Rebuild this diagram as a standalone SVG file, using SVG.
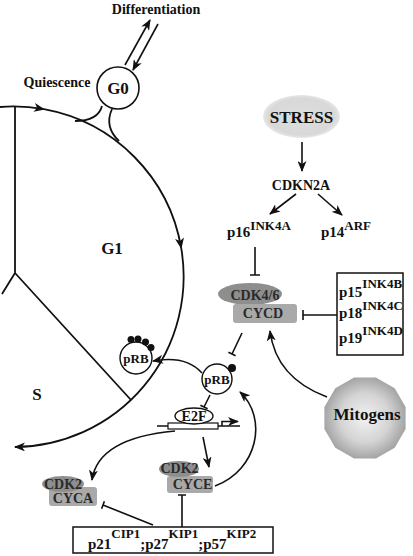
<svg xmlns="http://www.w3.org/2000/svg" width="413" height="556" viewBox="0 0 413 556">
<style>
text{font-family:"Liberation Serif","Times New Roman",serif;font-weight:bold;fill:#111}
.ln{fill:none;stroke:#111;stroke-width:1.6}
.cy{fill:none;stroke:#111;stroke-width:1.8}
.cdk{fill:#8e8e8e}
.cyc{fill:#a9a9a9}
.ct{fill:#2a2a2a;font-size:14px;text-anchor:middle}
.box{fill:#fff;stroke:#111;stroke-width:1.5}
</style>
<defs>
<marker id="ah" markerUnits="userSpaceOnUse" markerWidth="11" markerHeight="9" refX="10" refY="4.5" orient="auto">
<path d="M0,0 L11,4.5 L0,9 L3,4.5 z" fill="#111"/>
</marker>
<radialGradient id="mg" cx="0.5" cy="0.5" r="0.55">
<stop offset="0" stop-color="#f2f2f2"/>
<stop offset="0.55" stop-color="#d4d4d4"/>
<stop offset="1" stop-color="#9a9a9a"/>
</radialGradient>
<radialGradient id="sg" cx="0.5" cy="0.5" r="0.5">
<stop offset="0" stop-color="#dedede"/>
<stop offset="0.85" stop-color="#d8d8d8"/>
<stop offset="1" stop-color="#e6e6e6"/>
</radialGradient>
</defs>

<g id="cell-cycle">
<path class="cy" d="M0,107 A170.3,170.3 0 0 1 44,109.2" marker-end="url(#ah)"/>
<path class="cy" d="M44,109.2 A170.3,170.3 0 0 1 181.2,248" marker-end="url(#ah)"/>
<path class="cy" d="M181.2,248 A170.3,170.3 0 0 1 15,447" marker-end="url(#ah)"/>
<path class="cy" d="M15,107 V273 L2,294 M15,273 L131,400"/>
<path class="cy" d="M102,106 Q98,121 75,121"/>
<path class="cy" d="M112,109 Q104,127 119,141"/>
</g>

<g id="G0">
<circle cx="118" cy="88" r="21" fill="#fff" stroke="#111" stroke-width="1.6"/>
<text x="118" y="94" font-size="17" text-anchor="middle">G0</text>
</g>
<g id="labels">
<text x="156" y="14" font-size="14" text-anchor="middle">Differentiation</text>
<text x="57" y="87" font-size="14" text-anchor="middle">Quiescence</text>
<text x="112" y="254" font-size="17" text-anchor="middle">G1</text>
<text x="37" y="400" font-size="17" text-anchor="middle">S</text>
</g>

<g id="STRESS">
<ellipse cx="301.5" cy="116.5" rx="38.5" ry="21.5" fill="url(#sg)"/>
<text x="301.5" y="123" font-size="17" text-anchor="middle">STRESS</text>
</g>
<g id="CDKN2A"><text x="301" y="190" font-size="14" text-anchor="middle">CDKN2A</text></g>
<g id="p16"><text x="227" y="237" font-size="15">p16<tspan font-size="13" dy="-7">INK4A</tspan></text></g>
<g id="p14"><text x="321" y="237" font-size="15">p14<tspan font-size="13" dy="-7">ARF</tspan></text></g>

<g id="CDK46-CYCD">
<ellipse class="cdk" cx="250" cy="294" rx="32" ry="11"/>
<rect class="cyc" x="233" y="304" width="64" height="19" rx="3"/>
<text class="ct" x="255" y="300" font-size="15">CDK4/6</text>
<text class="ct" x="263" y="318">CYCD</text>
</g>

<g id="INK4-box">
<rect class="box" x="337" y="273" width="66" height="82"/>
<text x="339" y="297" font-size="15">p15<tspan font-size="13" dy="-9">INK4B</tspan></text>
<text x="339" y="318" font-size="15">p18<tspan font-size="13" dy="-8">INK4C</tspan></text>
<text x="339" y="343" font-size="15">p19<tspan font-size="13" dy="-8">INK4D</tspan></text>
</g>

<g id="Mitogens">
<polygon points="405.6,428.9 394.7,447.7 375.9,458.6 354.1,458.6 335.3,447.7 324.4,428.9 324.4,407.1 335.3,388.3 354.1,377.4 375.9,377.4 394.7,388.3 405.6,407.1" fill="url(#mg)"/>
<text x="367" y="420" font-size="17" text-anchor="middle">Mitogens</text>
</g>

<g id="pRB-P">
<circle cx="136" cy="358" r="16" fill="#fff" stroke="#111" stroke-width="1.4"/>
<circle cx="131" cy="339.5" r="3.5" fill="#111"/>
<circle cx="138" cy="339" r="3.5" fill="#111"/>
<circle cx="145.5" cy="342" r="3.5" fill="#111"/>
<circle cx="151" cy="347.5" r="3.5" fill="#111"/>
<text x="136" y="362.5" font-size="13" text-anchor="middle">pRB</text>
</g>

<g id="pRB">
<circle cx="217" cy="379" r="15" fill="#fff" stroke="#111" stroke-width="1.4"/>
<circle cx="232" cy="368" r="4" fill="#111"/>
<text x="217" y="383.5" font-size="13" text-anchor="middle">pRB</text>
</g>

<g id="E2F-gene">
<path class="ln" d="M157,426 H240" stroke-width="1.3"/>
<rect x="168" y="423" width="50" height="6" fill="#fff" stroke="#111" stroke-width="1.2"/>
<path class="ln" d="M222,426 V421.5 H238" stroke-width="1.2" marker-end="url(#ah)"/>
<ellipse cx="194" cy="416" rx="19" ry="8" fill="#fff" stroke="#111" stroke-width="1.4"/>
<text x="194" y="421" font-size="14" text-anchor="middle">E2F</text>
</g>

<g id="CDK2-CYCA">
<rect class="cyc" x="49" y="487" width="48" height="19" rx="3"/>
<ellipse class="cdk" cx="63" cy="484" rx="21" ry="8"/>
<text class="ct" x="63" y="489">CDK2</text>
<text class="ct" x="73" y="503">CYCA</text>
</g>

<g id="CDK2-CYCE">
<rect class="cyc" x="167" y="476" width="46" height="17" rx="3"/>
<ellipse class="cdk" cx="179" cy="469" rx="20" ry="8"/>
<text class="ct" x="179.5" y="473">CDK2</text>
<text class="ct" x="192.5" y="489">CYCE</text>
</g>

<g id="CKI-box">
<rect class="box" x="73" y="527" width="200" height="26"/>
<text x="88" y="549" font-size="15">p21<tspan font-size="13" dy="-11">CIP1</tspan><tspan dy="11">;p27</tspan><tspan font-size="13" dy="-11">KIP1</tspan><tspan dy="11">;p57</tspan><tspan font-size="13" dy="-11">KIP2</tspan></text>
</g>

<g id="connectors">
<line class="ln" x1="125" y1="65" x2="150" y2="20" marker-end="url(#ah)"/>
<line class="ln" x1="158" y1="24" x2="133" y2="70" marker-end="url(#ah)"/>
<line class="ln" x1="302" y1="142" x2="302" y2="171" marker-end="url(#ah)"/>
<line class="ln" x1="296" y1="194" x2="270" y2="214" marker-end="url(#ah)"/>
<line class="ln" x1="318" y1="194" x2="342" y2="215" marker-end="url(#ah)"/>
<path class="ln" d="M255,247 V275 M250,275 H260"/>
<path class="ln" d="M337,315 H303 M303,310 V320"/>
<path class="ln" d="M327,397 Q276,378 270,331" marker-end="url(#ah)"/>
<path class="ln" d="M242,333 L232,354 M235.6,355.7 L228.4,352.3"/>
<path class="ln" d="M202,373 Q186,355 153,361" marker-end="url(#ah)"/>
<path class="ln" d="M210,395 L204,407 M207.6,408.8 L200.4,405.2"/>
<line class="ln" x1="203" y1="437" x2="209" y2="467" marker-end="url(#ah)"/>
<path class="ln" d="M175,431 Q98,438 92,480" marker-end="url(#ah)"/>
<path class="ln" d="M215,486 C258,470 268,418 240,392" marker-end="url(#ah)"/>
<path class="ln" d="M153,525 L103,505 M104.4,501.3 L101.6,508.7"/>
<path class="ln" d="M182,527 V495 M178,495 H186"/>
</g>
</svg>
